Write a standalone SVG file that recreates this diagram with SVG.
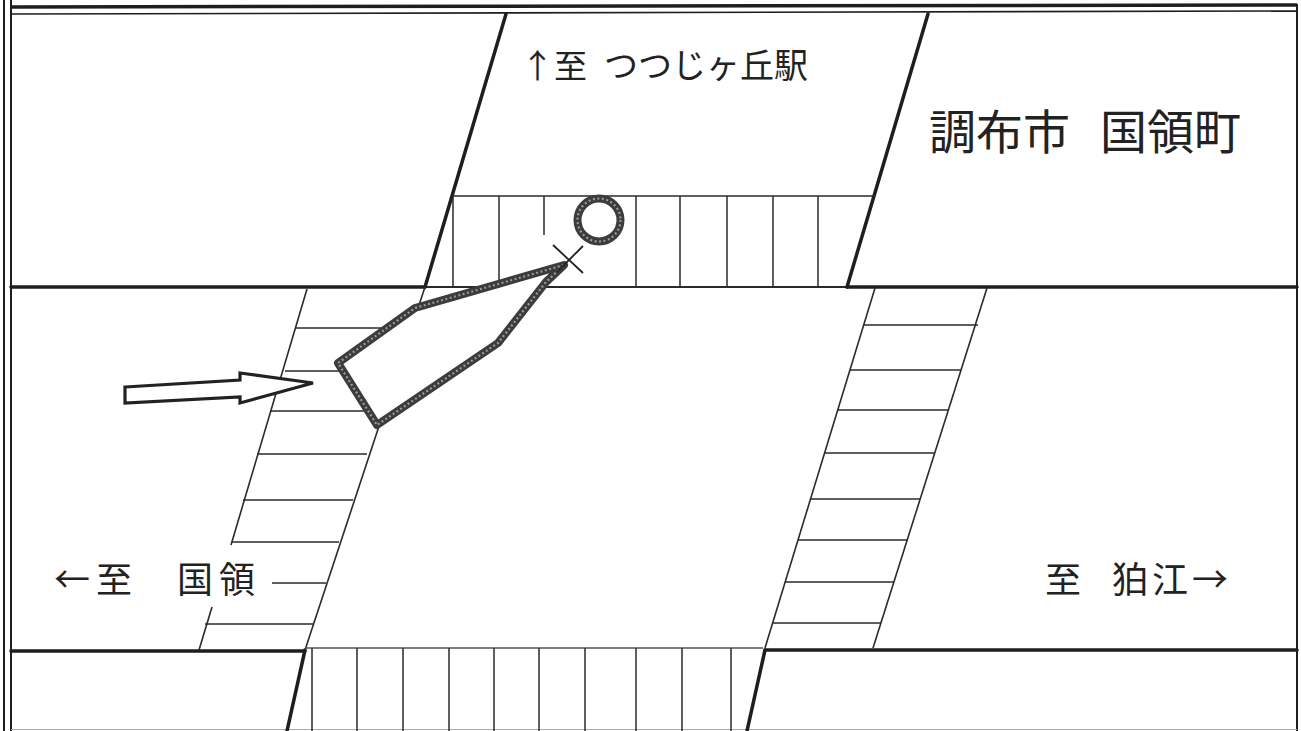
<svg xmlns="http://www.w3.org/2000/svg" width="1301" height="731" viewBox="0 0 1301 731">
<style>
.frame{stroke:#1e1e1e;fill:none;stroke-width:2}
.road{stroke:#1e1e1e;fill:none;stroke-width:3.5;stroke-linecap:round}
.thin{stroke:#2a2a2a;fill:none;stroke-width:1.6}
.stripe{stroke:#2a2a2a;fill:none;stroke-width:1.5}
.mark{stroke:#3c3c3c;fill:#fff;stroke-width:8;stroke-linejoin:round}
.speck{stroke:#9a9a9a;fill:none;stroke-width:2.2;stroke-dasharray:2 2.5;stroke-linejoin:round}
.txt{font-family:"Noto Sans CJK JP","Noto Sans",sans-serif;fill:#222}
</style>
<rect x="0" y="0" width="1301" height="731" fill="#fff"/>
<g id="frame">
<line class="frame" x1="4" y1="0" x2="4" y2="731"/>
<line class="frame" x1="11" y1="0" x2="11" y2="731"/>
<line class="frame" x1="1297" y1="4" x2="1297" y2="731"/>
<line class="frame" x1="11" y1="7" x2="1297" y2="5" style="stroke-width:3.5"/>
<line class="frame" x1="11" y1="14" x2="1297" y2="11" style="stroke-width:1.6"/>
<line x1="11" y1="729.5" x2="1297" y2="729.5" stroke="#aaa" stroke-width="1.2"/>
</g>
<g id="roads">
<line class="road" x1="11" y1="287" x2="425" y2="287"/>
<line class="road" x1="847" y1="287" x2="1297" y2="287"/>
<line class="thin" x1="425" y1="287" x2="847" y2="287" style="stroke-width:2.2"/>
<line class="road" x1="11" y1="651" x2="305" y2="651"/>
<line class="road" x1="765" y1="650" x2="1297" y2="650"/>
<line class="road" x1="506" y1="14" x2="425" y2="287"/>
<line class="road" x1="928" y1="14" x2="847" y2="287"/>
<line class="road" x1="305" y1="650" x2="287" y2="731"/>
<line class="road" x1="765" y1="650" x2="747" y2="731"/>
</g>
<g id="crosswalk-top">
<line class="thin" x1="452" y1="196" x2="875" y2="196"/>
<line class="stripe" x1="453" y1="196" x2="453" y2="287"/>
<line class="stripe" x1="499" y1="196" x2="499" y2="287"/>
<line class="stripe" x1="544" y1="196" x2="544" y2="235"/>
<line class="stripe" x1="636" y1="196" x2="636" y2="287"/>
<line class="stripe" x1="680" y1="196" x2="680" y2="287"/>
<line class="stripe" x1="727" y1="196" x2="727" y2="287"/>
<line class="stripe" x1="773" y1="196" x2="773" y2="287"/>
<line class="stripe" x1="818" y1="196" x2="818" y2="287"/>
</g>
<g id="crosswalk-left">
<line class="thin" x1="307" y1="289" x2="231" y2="545"/>
<line class="thin" x1="212" y1="607" x2="199" y2="650"/>
<line class="thin" x1="425" y1="287" x2="305" y2="650"/>
<line class="stripe" x1="295" y1="328" x2="408" y2="328"/>
<line class="stripe" x1="285" y1="371" x2="340" y2="371"/>
<line class="stripe" x1="270" y1="411" x2="372" y2="411"/>
<line class="stripe" x1="257" y1="454" x2="367" y2="454"/>
<line class="stripe" x1="243" y1="500" x2="353" y2="500"/>
<line class="stripe" x1="232" y1="542" x2="339" y2="542"/>
<line class="stripe" x1="272" y1="583" x2="326" y2="583"/>
<line class="stripe" x1="205" y1="624" x2="313" y2="624"/>
</g>
<g id="crosswalk-right">
<line class="thin" x1="875" y1="288" x2="765" y2="648"/>
<line class="thin" x1="987" y1="288" x2="873" y2="648"/>
<line class="stripe" x1="864" y1="325" x2="978" y2="325"/>
<line class="stripe" x1="850" y1="370" x2="961" y2="370"/>
<line class="stripe" x1="838" y1="410" x2="948" y2="410"/>
<line class="stripe" x1="825" y1="453" x2="935" y2="453"/>
<line class="stripe" x1="811" y1="499" x2="920" y2="499"/>
<line class="stripe" x1="798" y1="540" x2="907" y2="540"/>
<line class="stripe" x1="785" y1="582" x2="894" y2="582"/>
<line class="stripe" x1="772" y1="623" x2="881" y2="623"/>
</g>
<g id="crosswalk-bottom">
<line class="thin" x1="305" y1="648" x2="763" y2="648" style="stroke:#555;stroke-width:1.4"/>
<line class="stripe" x1="312" y1="648" x2="312" y2="731"/>
<line class="stripe" x1="357" y1="648" x2="357" y2="731"/>
<line class="stripe" x1="403" y1="648" x2="403" y2="731"/>
<line class="stripe" x1="449" y1="648" x2="449" y2="731"/>
<line class="stripe" x1="494" y1="648" x2="494" y2="731"/>
<line class="stripe" x1="539" y1="648" x2="539" y2="731"/>
<line class="stripe" x1="585" y1="648" x2="585" y2="731"/>
<line class="stripe" x1="636" y1="648" x2="636" y2="731"/>
<line class="stripe" x1="682" y1="648" x2="682" y2="731"/>
<line class="stripe" x1="731" y1="648" x2="731" y2="731"/>
</g>
<g id="vehicle">
<polygon class="mark" points="564,265 415,308 338,363 377,425 498,343 546,282"/>
<polygon class="speck" points="564,265 415,308 338,363 377,425 498,343 546,282"/>
</g>
<g id="impact-point">
<circle class="mark" cx="599" cy="220" r="21.5" style="fill:none"/>
<circle class="speck" cx="599" cy="220" r="21.5"/>
<line x1="553" y1="245" x2="583" y2="273" stroke="#222" stroke-width="1.8"/>
<line x1="583" y1="246" x2="557" y2="272" stroke="#222" stroke-width="1.8"/>
</g>
<g id="direction-arrow">
<polygon points="125,387 240,380 240,373 313,383 240,403 240,397 125,403" fill="#fff" stroke="#222" stroke-width="3.2" stroke-linejoin="miter"/>
</g>
<g id="labels">
<text class="txt" x="521" y="78" font-size="33">↑至 <tspan x="604" font-size="34">つつじヶ丘駅</tspan></text>
<text class="txt" x="929" y="149" font-size="47">調布市 <tspan x="1100">国領町</tspan></text>
<text class="txt" x="54" y="593" font-size="36" letter-spacing="6">←至 <tspan x="177">国領</tspan></text>
<text class="txt" x="1045" y="593" font-size="36">至 <tspan x="1112" letter-spacing="4">狛江→</tspan></text>
</g>
</svg>
